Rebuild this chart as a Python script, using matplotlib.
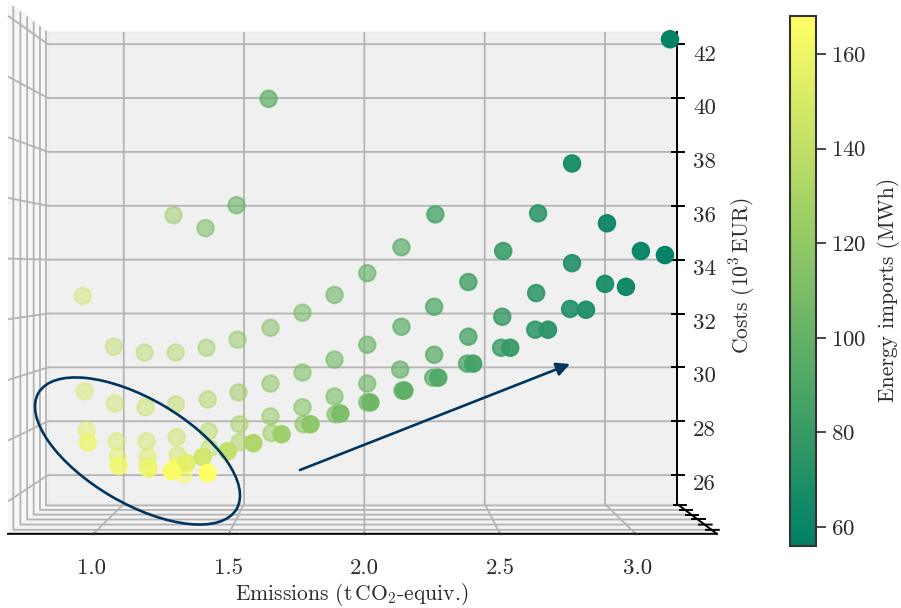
import numpy as np
import matplotlib
matplotlib.use("Agg")
import matplotlib.pyplot as plt
from matplotlib.patches import Ellipse, FancyArrowPatch
from matplotlib.cm import ScalarMappable
from matplotlib.colors import Normalize

plt.rcParams['font.family'] = ['cmr10', 'DejaVu Serif']
plt.rcParams['mathtext.fontset'] = 'cm'
plt.rcParams['axes.formatter.use_mathtext'] = True
plt.rcParams['axes.unicode_minus'] = False

emissions = [
    0.830, 0.959, 1.087, 1.216, 1.344, 1.473, 1.610, 1.743, 1.876, 2.012, 2.154, 2.295,
    1.207, 1.340, 1.469, 1.602, 2.722, 2.863, 3.008, 3.270,
    0.838, 0.963, 1.091, 1.216, 1.349, 1.477, 1.610, 1.743, 1.876, 2.012, 2.154, 2.290, 2.432, 2.577,
    0.846, 0.971, 1.095, 1.220, 1.353, 1.481, 1.610, 1.743, 1.876, 2.012, 2.149, 2.290, 2.432, 2.573, 2.714, 2.863,
    0.851, 0.975, 1.100, 1.224, 1.357, 1.481, 1.614, 1.747, 1.880, 2.012, 2.158, 2.286, 2.427, 2.568, 2.710, 2.855, 3.000, 3.149,
    1.249, 1.100, 1.212,
    0.979, 1.104, 1.199, 1.224, 1.261, 1.328, 1.432, 1.539, 1.656, 1.776, 1.900, 2.025, 2.166, 2.307, 2.452, 2.606, 2.763, 2.921, 3.087, 3.249,
    1.349,
]
costs = [
    32.65, 30.77, 30.55, 30.55, 30.73, 31.03, 31.47, 32.03, 32.69, 33.50, 34.46, 35.68,
    35.65, 35.17, 36.02, 39.97, 35.72, 37.57, 35.35, 42.18,
    29.11, 28.66, 28.52, 28.63, 28.81, 29.07, 29.40, 29.81, 30.29, 30.84, 31.51, 32.25, 33.17, 34.32,
    27.67, 27.26, 27.26, 27.41, 27.63, 27.89, 28.18, 28.52, 28.92, 29.40, 29.92, 30.47, 31.14, 31.88, 32.76, 33.87,
    27.22, 26.67, 26.67, 26.74, 27.00, 27.22, 27.56, 27.89, 28.26, 28.70, 29.14, 29.62, 30.14, 30.73, 31.40, 32.17, 33.10, 34.32,
    26.04, 26.34, 26.23,
    26.34, 26.23, 26.15, 26.34, 26.45, 26.67, 26.89, 27.19, 27.52, 27.89, 28.29, 28.70, 29.14, 29.62, 30.14, 30.73, 31.40, 32.14, 32.99, 34.17,
    26.08,
]
imports = [
    145, 138, 136, 133, 126, 119, 113, 108, 104, 100, 95, 86,
    122, 110, 103, 98, 74, 66, 62, 58,
    150, 146, 143, 139, 133, 125, 118, 112, 107, 103, 97, 91, 85, 79,
    154, 150, 148, 144, 137, 129, 122, 115, 110, 105, 100, 94, 87, 81, 75, 70,
    160, 155, 153, 148, 141, 133, 125, 118, 111, 106, 100, 95, 89, 82, 75, 70, 65, 60,
    165, 158, 163,
    162, 160, 166, 160, 155, 147, 140, 132, 125, 118, 110, 104, 97, 92, 86, 80, 74, 69, 62, 57,
    168,
]
# depth cue: near points are solid, far ones faint
nearness = [
    .45, .47, .47, .48, .50, .52, .55, .57, .60, .64, .68, .77,
    .50, .58, .63, .72, .86, .95, .95, 1.0,
    .47, .48, .49, .50, .52, .55, .57, .60, .62, .65, .70, .74, .80, .86,
    .47, .48, .49, .50, .52, .55, .57, .60, .62, .64, .68, .72, .77, .82, .86, .90,
    .72, .50, .50, .51, .53, .55, .57, .60, .62, .64, .68, .70, .74, .80, .86, .90, .92, .97,
    .55, .55, .55,
    .78, .78, .95, .85, .90, .90, .95, .95, .95, .95, .95, .95, .95, .95, .95, .95, .95, .95, .97, .98,
    1.0,
]
x_ticks = [1.0, 1.5, 2.0, 2.5, 3.0]
depth_ticks = [0.12, 0.285, 0.45, 0.615, 0.78, 0.945]
cost_ticks = [26, 28, 30, 32, 34, 36, 38, 40, 42]
cbar_ticks = [60, 80, 100, 120, 140, 160]

NAVY = '#003560'
TEXT = '#2b2b2b'
fig = plt.figure(figsize=(9.01, 6.08), dpi=100)
ax = fig.add_axes([-169.5/901, -192/608, 1036/901, 1036/608], projection='3d')
ax.patch.set_alpha(0)
ax.view_init(elev=0, azim=-89.99)
ax.set_xlim(0.685, 3.30, view_margin=0)
ax.set_ylim(0, 1, view_margin=0)
ax.set_zlim(24.93, 42.45, view_margin=0)

norm = Normalize(56, 168)
cmap = plt.get_cmap('summer')
rgba = cmap(norm(np.array(imports, float)))
rgba[:, 3] = nearness
plane = 1.0 - 0.002 * np.array(nearness)
ax.scatter(emissions, plane, costs, s=140, facecolors=rgba, edgecolors=rgba,
           linewidths=1.5, depthshade=False)

ax.set_xticks(x_ticks)
ax.set_xticklabels([f'{t:.1f}' for t in x_ticks])
ax.set_yticks(depth_ticks)
ax.set_yticklabels([])
ax.set_zticks(cost_ticks)
ax.set_zticklabels([str(t) for t in cost_ticks])
ax.tick_params(labelsize=16.5, colors=TEXT)
ax.tick_params(axis='x', pad=9)
ax.tick_params(axis='z', pad=10)
for a in (ax.xaxis, ax.yaxis, ax.zaxis):
    a._axinfo['grid']['linewidth'] = 1.3
    a._axinfo['grid']['color'] = '#b4b4b4'
    a._axinfo['tick']['outward_factor'] = 0.1
    a._axinfo['tick']['inward_factor'] = 0.13
    a._axinfo['tick']['linewidth'] = {True: 1.4, False: 0.8}
    a._axinfo['tick']['color'] = 'black'
    a.line.set_linewidth(1.4)
    a.line.set_color('black')
for tick_line in ax.zaxis.get_ticklines() + ax.yaxis.get_ticklines():
    tick_line.set_color('black')
ax.yaxis.set_pane_color((0.9, 0.9, 0.9, 0.6))
ax.zaxis.set_pane_color((0.925, 0.925, 0.925, 0.6))
ax.xaxis.set_pane_color((0.95, 0.95, 0.95, 0.6))

fig.text(352/901, 1 - 594/608, r'Emissions (t$\,$CO$_2$-equiv.)', ha='center', va='center', fontsize=15.5, color=TEXT)
fig.text(742/901, 1 - 276/608, r'Costs ($10^3\,$EUR)', rotation=90, ha='center', va='center', fontsize=15.5, color=TEXT)

cax = fig.add_axes([790/901, 1 - 546/608, 26/901, 530/608])
cb = fig.colorbar(ScalarMappable(norm=norm, cmap=cmap), cax=cax, ticks=cbar_ticks)
cb.outline.set_linewidth(1.5)
cb.outline.set_edgecolor('#333333')
cax.tick_params(labelsize=16.5, length=7, width=1.2, colors=TEXT)
fig.text(888/901, 1 - 290/608, 'Energy imports (MWh)', rotation=90, ha='center', va='center', fontsize=15.5, color=TEXT)

fig.add_artist(Ellipse((1.375, (608 - 451) / 100), 2.296, 1.046, angle=-30.4, fill=False,
                       edgecolor=NAVY, linewidth=1.9, transform=fig.dpi_scale_trans))
fig.add_artist(FancyArrowPatch((3.00, (608 - 470) / 100), (5.70, (608 - 364) / 100), arrowstyle='-|>',
                               mutation_scale=20, color=NAVY, linewidth=1.9, shrinkA=0, shrinkB=0,
                               transform=fig.dpi_scale_trans))
fig.savefig('out.png', dpi=100)
